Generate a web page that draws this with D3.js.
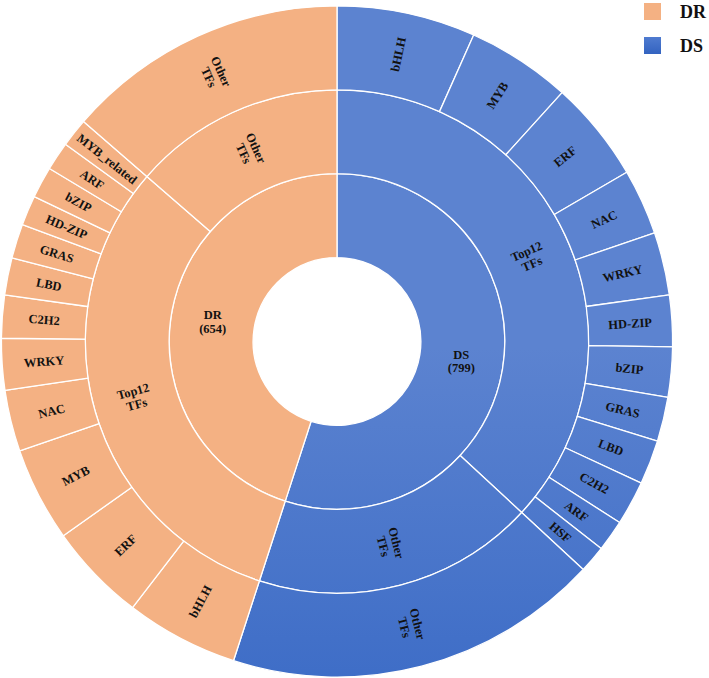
<!DOCTYPE html>
<html>
<head>
<meta charset="utf-8">
<script src="https://cdn.jsdelivr.net/npm/d3@7"></script>
<style>
  html, body { margin: 0; padding: 0; background: #fff; }
  svg { display: block; }
  .seg-label { font-family: "Liberation Serif", "Times New Roman", serif; font-weight: bold; font-size: 12.5px; fill: #111; }
  .legend-text { font-family: "Liberation Serif", "Times New Roman", serif; font-weight: bold; font-size: 18px; fill: #111; }
</style>
</head>
<body>
<div id="chart"></div>
<script>
// counts (clockwise from 12 o'clock)
const groupNames = ['DS', 'DR'];
const groupTotals = [799, 654];

const dsFamilies = ['bHLH', 'MYB', 'ERF', 'NAC', 'WRKY', 'HD-ZIP', 'bZIP', 'GRAS', 'LBD', 'C2H2', 'ARF', 'HSF'];
const dsCounts   = [97, 73, 71, 46, 44, 36, 35, 31, 31, 31, 22, 19];
const dsOther = 263;

const drFamilies = ['bHLH', 'ERF', 'MYB', 'NAC', 'WRKY', 'C2H2', 'LBD', 'GRAS', 'HD-ZIP', 'bZIP', 'ARF', 'MYB_related'];
const drCounts   = [79, 69, 66, 43, 36, 30, 26, 24, 21, 22, 20, 20];
const drOther = 198;

const legendItems = ['DR', 'DS'];

(function () {
  const W = 709, H = 678;
  const cx = 337, cy = 341.5;
  const ringW = 83.9;

  function buildGroup(name, total, families, counts, other) {
    return {
      name, label: [name, `(${total})`], group: name,
      children: [
        {
          name: 'Top12', label: ['Top12', 'TFs'], group: name,
          children: families.map((f, i) => ({ name: f, label: [f], group: name, value: counts[i] })),
        },
        {
          name: 'Other', label: ['Other', 'TFs'], group: name,
          children: [{ name: 'OtherLeaf', label: ['Other', 'TFs'], group: name, value: other }],
        },
      ],
    };
  }

  const rootData = {
    name: 'root',
    children: [
      buildGroup(groupNames[0], groupTotals[0], dsFamilies, dsCounts, dsOther),
      buildGroup(groupNames[1], groupTotals[1], drFamilies, drCounts, drOther),
    ],
  };

  const root = d3.hierarchy(rootData).sum(d => d.value || 0);
  d3.partition().size([2 * Math.PI, root.height + 1])(root);

  const r = d3.scaleLinear().domain([0, 4]).range([0, ringW * 4]);

  const arc = d3.arc()
    .startAngle(d => d.x0)
    .endAngle(d => d.x1)
    .innerRadius(d => r(d.y0))
    .outerRadius(d => r(d.y1));

  const svg = d3.select('#chart').append('svg')
    .attr('width', W)
    .attr('height', H);

  const defs = svg.append('defs');
  const grad = defs.append('linearGradient')
    .attr('id', 'dsGrad')
    .attr('gradientUnits', 'userSpaceOnUse')
    .attr('x1', 0).attr('y1', 6).attr('x2', 0).attr('y2', 677);
  grad.append('stop').attr('offset', '0%').attr('stop-color', '#5c83d0');
  grad.append('stop').attr('offset', '55%').attr('stop-color', '#3b6bc6');
  grad.append('stop').attr('offset', '100%').attr('stop-color', '#2a5bb6');

  const legGrad = defs.append('linearGradient')
    .attr('id', 'dsLegGrad')
    .attr('x1', 0).attr('y1', 0).attr('x2', 0).attr('y2', 1);
  legGrad.append('stop').attr('offset', '0%').attr('stop-color', '#4f7bd0');
  legGrad.append('stop').attr('offset', '100%').attr('stop-color', '#3363c0');

  const fillFor = g => (g === 'DR' ? '#f4b183' : 'url(#dsGrad)');

  const g = svg.append('g').attr('transform', `translate(${cx},${cy})`);
  const nodes = root.descendants().filter(d => d.depth > 0);

  g.selectAll('path.seg')
    .data(nodes)
    .join('path')
    .attr('class', 'seg')
    .attr('d', arc)
    .attr('fill', d => fillFor(d.data.group))
    .attr('stroke', '#ffffff')
    .attr('stroke-width', 1.3)
    .attr('stroke-linejoin', 'round');

  const lineH = 13.5;
  const labels = g.selectAll('text.seg-label')
    .data(nodes)
    .join('text')
    .attr('class', 'seg-label')
    .attr('text-anchor', 'middle')
    .attr('transform', d => {
      const a = (d.x0 + d.x1) / 2;
      const rr = r((d.y0 + d.y1) / 2);
      const x = Math.sin(a) * rr;
      const y = -Math.cos(a) * rr;
      const deg = a * 180 / Math.PI;
      let rot = 0;
      if (d.depth > 1) rot = deg < 180 ? deg - 90 : deg + 90;
      return `translate(${x},${y}) rotate(${rot})`;
    });

  labels.selectAll('tspan')
    .data(d => d.data.label.map((t, i, arr) => ({ t, i, n: arr.length })))
    .join('tspan')
    .attr('x', 0)
    .attr('y', d => (d.i - (d.n - 1) / 2) * lineH)
    .attr('dy', '0.35em')
    .text(d => d.t);

  // legend
  const legend = svg.append('g').attr('transform', 'translate(644,3)');
  const legRow = legend.selectAll('g')
    .data(legendItems)
    .join('g')
    .attr('transform', (d, i) => `translate(0,${i * 34})`);
  legRow.append('rect')
    .attr('width', 17)
    .attr('height', 17)
    .attr('fill', d => (d === 'DR' ? '#f4b183' : 'url(#dsLegGrad)'));
  legRow.append('text')
    .attr('class', 'legend-text')
    .attr('x', 36)
    .attr('y', 9)
    .attr('dy', '0.35em')
    .text(d => d);
})();
</script>
</body>
</html>
